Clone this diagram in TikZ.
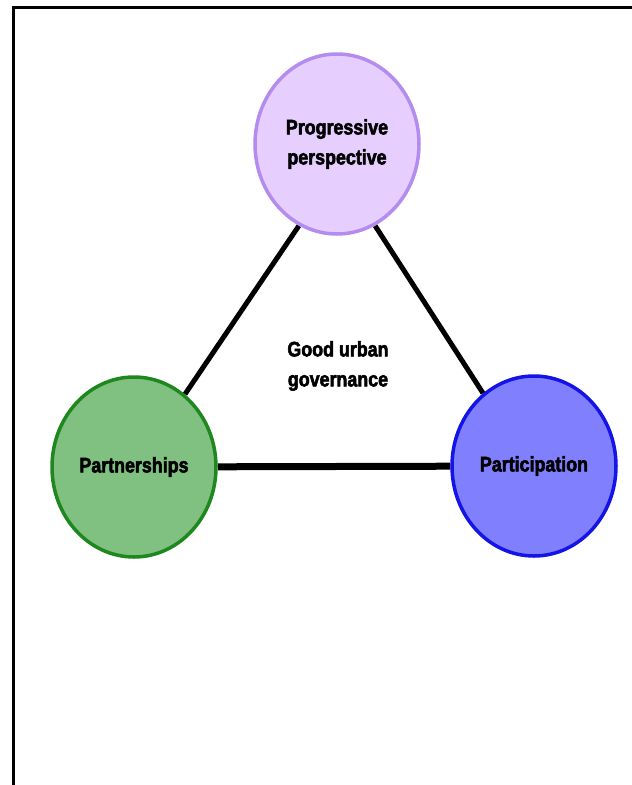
\documentclass[tikz,border=0pt]{standalone}
\usepackage{fontspec}
\setmainfont{Liberation Sans}[FakeStretch=0.85,BoldFeatures={FakeBold=2.5}]
\usetikzlibrary{shapes.geometric,backgrounds}
\definecolor{lavfill}{RGB}{230,206,255}
\definecolor{lavline}{RGB}{180,140,240}
\definecolor{grnfill}{RGB}{128,192,128}
\definecolor{grnline}{RGB}{30,135,30}
\definecolor{blufill}{RGB}{128,128,255}
\definecolor{bluline}{RGB}{20,20,230}
\tikzset{
  bubble/.style={ellipse,draw,line width=3.5pt,minimum width=164pt,minimum height=180pt,
    inner sep=0pt,align=center,font=\fontsize{21}{30}\selectfont\bfseries},
  link/.style={line width=5pt}
}

\begin{document}
\begin{tikzpicture}[x=1pt,y=-1pt]
\useasboundingbox (0,0) rectangle (632,785);
% frame
\draw[line width=3pt] (13,785)--(13,7)--(632,7);
% the three circles
\node[bubble,draw=lavline,fill=lavfill] (prog) at (337,144) {Progressive\\perspective};
\node[bubble,draw=grnline,fill=grnfill] (part) at (134,467) {Partnerships};
\node[bubble,draw=bluline,fill=blufill] (partic) at (534,466) {Participation};
\node[align=center,font=\fontsize{21}{30}\selectfont\bfseries] (good) at (338,366) {Good urban\\governance};
% connectors
\begin{scope}[on background layer]
\draw[link] (part.55)--(prog.-115);
\draw[link] (prog.-65)--(partic.125);
\draw[line width=7pt] (part)--(partic);
\end{scope}
\end{tikzpicture}
\end{document}
